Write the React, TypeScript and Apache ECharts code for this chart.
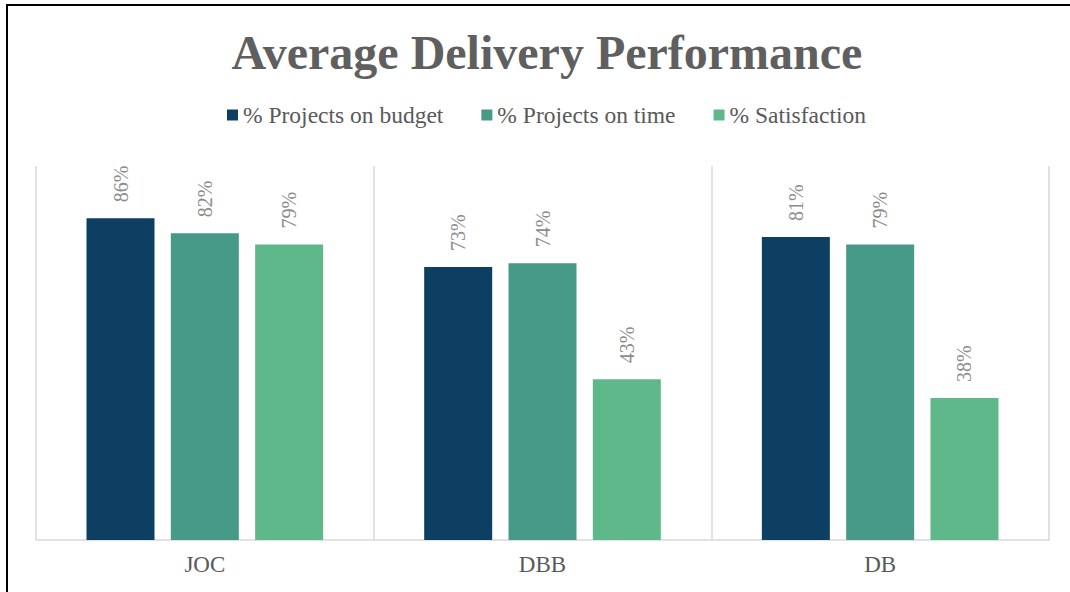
import React, { useEffect, useRef } from "react";
import * as echarts from "echarts";

const categories = ["JOC", "DBB", "DB"];
const seriesNames = ["% Projects on budget", "% Projects on time", "% Satisfaction"];
const onBudget = [86, 73, 81];
const onTime = [82, 74, 79];
const satisfaction = [79, 43, 38];
const colors = ["#0C3F61", "#479A87", "#5EB88A"];

const FONT = "'Liberation Serif', 'Times New Roman', serif";

export default function App() {
  const ref = useRef<HTMLDivElement>(null);
  useEffect(() => {
    if (!ref.current) return;
    const chart = echarts.init(ref.current, undefined, { renderer: "svg" });
    const values = [onBudget, onTime, satisfaction];
    chart.setOption({
      animation: false,
      backgroundColor: "transparent",
      title: {
        text: "Average Delivery Performance",
        left: 542,
        textAlign: "center",
        top: 23,
        textStyle: {
          fontFamily: FONT,
          fontSize: 48,
          fontWeight: "bold",
          color: "#5f5f5f",
        },
      },
      legend: {
        left: 222,
        top: 98,
        itemWidth: 11,
        itemHeight: 11,
        itemGap: 38,
        icon: "rect",
        textStyle: {
          fontFamily: FONT,
          fontSize: 23.5,
          color: "#595959",
        },
        data: seriesNames,
      },
      grid: { left: 36, right: 21, top: 166, bottom: 52, containLabel: false },
      xAxis: {
        type: "category",
        data: categories,
        axisLine: { lineStyle: { color: "#d9d9d9", width: 1.5 } },
        axisTick: { show: false },
        axisLabel: {
          fontFamily: FONT,
          fontSize: 23,
          color: "#595959",
          margin: 13,
        },
        splitLine: { show: true, lineStyle: { color: "#d9d9d9", width: 1.5 } },
      },
      yAxis: {
        type: "value",
        min: 0,
        max: 100,
        show: false,
      },
      series: seriesNames.map((name, i) => ({
        name,
        type: "bar",
        data: values[i],
        barWidth: 68,
        barGap: "24%",
        itemStyle: { color: colors[i] },
        label: {
          show: true,
          position: "top",
          rotate: 90,
          align: "left",
          verticalAlign: "middle",
          distance: 16,
          formatter: "{c}%",
          fontFamily: FONT,
          fontSize: 20,
          color: "#8c8c8c",
        },
      })),
    });
    return () => chart.dispose();
  }, []);
  return (
    <div style={{ position: "fixed", left: 0, top: 0, width: 1070, height: 592, overflow: "hidden", background: "#fff" }}>
      <div
        style={{
          position: "absolute",
          left: 6,
          top: 4,
          width: 1200,
          height: 700,
          border: "2px solid #000",
          boxSizing: "border-box",
        }}
      />
      <div ref={ref} style={{ position: "absolute", left: 0, top: 0, width: 1070, height: 592 }} />
    </div>
  );
}
